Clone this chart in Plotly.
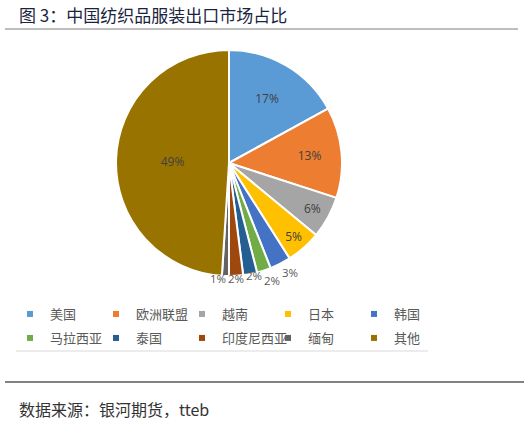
"""China textile & apparel export market share pie chart."""

import math

import plotly.graph_objects as go

MARKETS = ["美国", "欧洲联盟", "越南", "日本", "韩国",
           "马拉西亚", "泰国", "印度尼西亚", "缅甸", "其他"]
SHARES = [17, 13, 6, 5, 3, 2, 2, 2, 1, 49]
COLORS = ["#5B9BD5", "#ED7D31", "#A5A5A5", "#FFC000", "#4472C4",
          "#70AD47", "#255E91", "#9E480E", "#636363", "#997300"]
INSIDE = [True, True, True, True, False, False, False, False, False, True]

W, H = 530, 426
CX, CY, R = 229, 163, 113
CJK = "Noto Sans CJK SC"


def py(px):
    return 1 - px / H


fig = go.Figure()
fig.add_trace(
    go.Pie(
        labels=MARKETS,
        values=SHARES,
        sort=False,
        direction="clockwise",
        rotation=0,
        marker=dict(colors=COLORS, line=dict(color="white", width=2)),
        text=[f"{v}%" if ins else "" for v, ins in zip(SHARES, INSIDE)],
        textinfo="text",
        textposition="inside",
        insidetextorientation="horizontal",
        insidetextfont=dict(color="#404040", size=12, family="Open Sans"),
        showlegend=False,
        hoverinfo="label+percent",
        domain=dict(x=[(CX - R) / W, (CX + R) / W], y=[py(CY + R), py(CY - R)]),
    )
)

# labels for the thin slices sit just outside the rim near each slice's mid
# angle, spread apart by at least 8 degrees so neighbours don't collide
total = sum(SHARES)
cum = 0
prev_a = None
for v, ins in zip(SHARES, INSIDE):
    a = (cum + v / 2) / total * 360
    cum += v
    if ins:
        continue
    if prev_a is not None:
        a = max(a, prev_a + 8.3)
    prev_a = a
    rad = math.radians(a - 2)
    lx = CX + 125 * math.sin(rad)
    ly = CY - 125 * math.cos(rad)
    fig.add_annotation(
        text=f"{v}%", xref="paper", yref="paper",
        x=lx / W, y=py(ly), showarrow=False,
        font=dict(color="#595959", size=11.5, family="Open Sans"),
    )

# legend entries with small square swatches, five per row in two legends
for i, (name, c) in enumerate(zip(MARKETS, COLORS)):
    fig.add_trace(
        go.Scatter(
            x=[None], y=[None], mode="markers", name=name,
            marker=dict(symbol="square", size=6, color=c),
            legend="legend" if i < 5 else "legend2",
        )
    )

legend_style = dict(
    orientation="h", xanchor="left", yanchor="middle",
    entrywidth=41, entrywidthmode="pixels",
    font=dict(family=CJK, size=13, color="#595959"),
    itemwidth=30, bgcolor="rgba(0,0,0,0)",
)

line_shapes = [
    dict(x0=5 / W, x1=518 / W, y=29, color="#7f7f7f", width=1.2),
    dict(x0=16 / W, x1=428 / W, y=351, color="#d9d9d9", width=1),
    dict(x0=5 / W, x1=524 / W, y=382, color="#595959", width=1.5),
]
for s in line_shapes:
    fig.add_shape(
        type="line", xref="paper", yref="paper",
        x0=s["x0"], x1=s["x1"], y0=py(s["y"]), y1=py(s["y"]),
        line=dict(color=s["color"], width=s["width"]),
    )

fig.add_annotation(
    text="图 3：中国纺织品服装出口市场占比",
    xref="paper", yref="paper", x=17 / W, y=py(15),
    xanchor="left", yanchor="middle", showarrow=False,
    font=dict(family=CJK, size=17, color="#1A2440"),
)
fig.add_annotation(
    text="数据来源：银河期货，tteb",
    xref="paper", yref="paper", x=17 / W, y=py(409),
    xanchor="left", yanchor="middle", showarrow=False,
    font=dict(family=CJK, size=16, color="#333333"),
)

fig.update_layout(
    width=W,
    height=H,
    margin=dict(l=0, r=0, t=0, b=0),
    paper_bgcolor="white",
    plot_bgcolor="white",
    xaxis=dict(visible=False),
    yaxis=dict(visible=False),
    legend=dict(x=10 / W, y=py(314), **legend_style),
    legend2=dict(x=10 / W, y=py(338), **legend_style),
)

# drop the page's default body margin so the figure sits at the window origin
fig.write_html(
    "out.html",
    config={"displayModeBar": False},
    post_script="document.body.style.margin = '0';",
)
